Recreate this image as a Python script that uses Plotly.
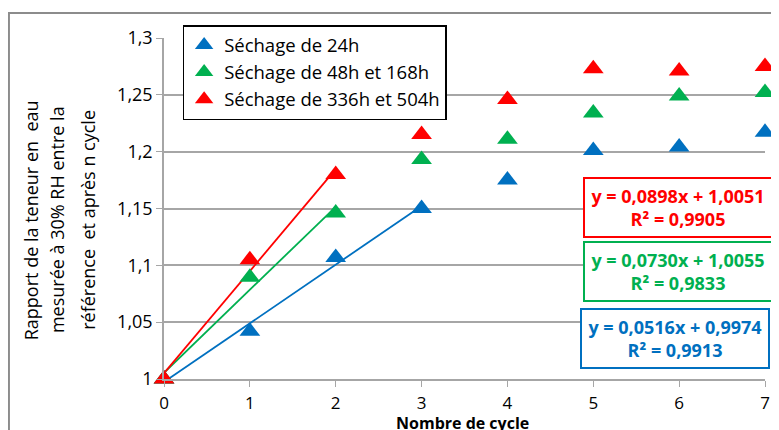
import plotly.graph_objects as go

# Données (ratio teneur en eau)
cycles = [0, 1, 2, 3, 4, 5, 6, 7]
sechage_24h = [1.0, 1.042, 1.107, 1.150, 1.175, 1.201, 1.204, 1.217]
sechage_48h_168h = [1.0, 1.0895, 1.146, 1.193, 1.211, 1.234, 1.249, 1.252]
sechage_336h_504h = [1.0, 1.105, 1.180, 1.215, 1.246, 1.273, 1.271, 1.275]

noms = ["Séchage de 24h", "Séchage de 48h et 168h", "Séchage de 336h et 504h"]
couleurs = ["#0070C0", "#00B050", "#FF0000"]

# Droites de tendance (pente, ordonnée, R², dernier cycle)
pentes = [0.0516, 0.0730, 0.0898]
ordonnees = [0.9974, 1.0055, 1.0051]
r2 = [0.9913, 0.9833, 0.9905]
fin_tendance = [3, 2, 2]
eq_y = [0.12, 0.314, 0.504]
eq_x = [0.692, 0.697, 0.697]

yticks = [1.0, 1.05, 1.1, 1.15, 1.2, 1.25, 1.3]
yticklabels = ["1", "1,05", "1,1", "1,15", "1,2", "1,25", "1,3"]

police = "Open Sans"
series = [sechage_24h, sechage_48h_168h, sechage_336h_504h]


def virgule(v):
    return ("%.4f" % v).replace(".", ",")


fig = go.Figure()

for i in range(3):
    xs = [0, fin_tendance[i]]
    fig.add_trace(go.Scatter(
        x=xs, y=[ordonnees[i] + pentes[i] * x for x in xs],
        mode="lines", line=dict(color=couleurs[i], width=1.8),
        showlegend=False, hoverinfo="skip", cliponaxis=False,
    ))

for i in range(3):
    fig.add_trace(go.Scatter(
        x=cycles, y=series[i], mode="markers", name=noms[i],
        marker=dict(symbol="triangle-up", size=18, color=couleurs[i]),
        cliponaxis=False,
    ))

for i in range(3):
    txt = "<b>y = %sx + %s<br>R² = %s</b>" % (virgule(pentes[i]), virgule(ordonnees[i]), virgule(r2[i]))
    fig.add_annotation(
        x=eq_x[i], y=eq_y[i], xref="paper", yref="paper",
        xanchor="left", yanchor="middle", text=txt,
        showarrow=False, align="center", width=184, height=55,
        font=dict(family=police, size=18, color=couleurs[i]),
        bordercolor=couleurs[i], borderwidth=2, borderpad=1, bgcolor="white",
    )

# Titre de l'axe Y sur trois lignes
titre_y = ["Rapport de la teneur en  eau", "mesurée à 30% RH entre la", "référence  et après n cycle"]
pos_titre = [-0.221, -0.178, -0.127]
for t, px in zip(titre_y, pos_titre):
    fig.add_annotation(
        x=px, y=0.466, xref="paper", yref="paper", text=t, textangle=-90,
        showarrow=False, xanchor="center", yanchor="middle",
        font=dict(family=police, size=18, color="black"),
    )

# Titre de l'axe X
fig.add_annotation(
    x=0.497, y=-0.13, xref="paper", yref="paper", text="<b>Nombre de cycle</b>",
    showarrow=False, xanchor="center", yanchor="middle",
    font=dict(family=police, size=16, color="black"),
)

# Cadre extérieur
fig.add_shape(type="rect", xref="paper", yref="paper",
              x0=-0.258, x1=1.2, y0=-0.3, y1=1.073,
              line=dict(color="#8C8C8C", width=2), layer="below")

# la page ajoute une marge de 8 px autour du graphique
fig.update_layout(
    width=779, height=430,
    margin=dict(l=156, r=22, t=30, b=59, autoexpand=False),
    plot_bgcolor="white", paper_bgcolor="white",
    font=dict(family=police, color="black"),
    showlegend=True,
    legend=dict(
        x=0.031, y=1.038, xanchor="left", yanchor="top",
        bordercolor="black", borderwidth=1.5, bgcolor="white",
        font=dict(family=police, size=18.5, color="black"),
        tracegroupgap=0, itemwidth=30,
    ),
    xaxis=dict(
        range=[0, 7], tickvals=cycles, showgrid=False, automargin=False,
        showline=True, linecolor="#A6A6A6", linewidth=1.5,
        ticks="outside", ticklen=6, tickcolor="#A6A6A6", ticklabelstandoff=2,
        tickfont=dict(family=police, size=17, color="black"),
        zeroline=False,
    ),
    yaxis=dict(
        range=[1, 1.3], tickvals=yticks, ticktext=yticklabels, automargin=False,
        showgrid=True, gridcolor="#A6A6A6", gridwidth=1.5,
        showline=True, linecolor="#A6A6A6", linewidth=1.5,
        ticks="outside", ticklen=6, tickcolor="#A6A6A6",
        tickfont=dict(family=police, size=18, color="black"),
        zeroline=False,
    ),
)

fig.write_html("out.html")
